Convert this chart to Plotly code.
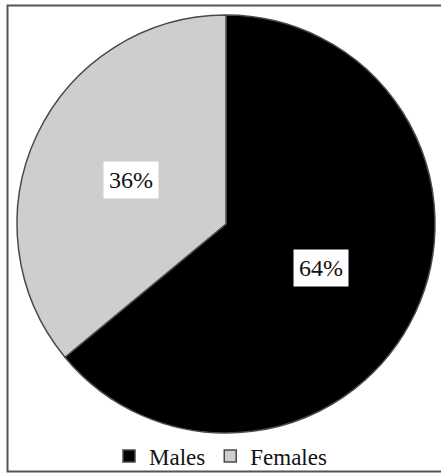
import math
import plotly.graph_objects as go

labels = ["Males", "Females"]
values = [64, 36]
colors = ["#000000", "#cecece"]

W, H = 441, 474
cx, cy, R = 226, 224, 209  # pie placement in pixels

SERIF = "Liberation Serif, Times New Roman, serif"

fig = go.Figure()
fig.add_trace(go.Pie(
    labels=labels, values=values, sort=False, direction="clockwise", rotation=0,
    marker=dict(colors=colors, line=dict(color="#4a4a4a", width=1.5)),
    textinfo="none", hoverinfo="label+percent",
    domain=dict(x=[(cx - R) / W, (cx + R) / W], y=[1 - (cy + R) / H, 1 - (cy - R) / H]),
))

# percentage labels in white boxes at half radius, mid-angle of each slice
total = sum(values)
cum = 0
annotations = []
for lab, v in zip(labels, values):
    mid = (cum + v / 2) / total * 2 * math.pi
    cum += v
    px = cx + 0.5 * R * math.sin(mid)
    py = cy - 0.5 * R * math.cos(mid)
    annotations.append(dict(
        x=px / W, y=1 - py / H, xref="paper", yref="paper",
        text=f"{round(v / total * 100)}%", showarrow=False,
        font=dict(family=SERIF, size=24, color="#111111"),
        bgcolor="white", borderpad=5, xanchor="center", yanchor="middle",
    ))

fig.update_layout(
    width=W, height=H,
    margin=dict(l=0, r=0, t=0, b=0, autoexpand=False),
    paper_bgcolor="white", plot_bgcolor="white",
    annotations=annotations,
    showlegend=True,
    legend=dict(orientation="h", x=0.5, xanchor="center", y=1 - 456 / H, yanchor="middle",
                font=dict(family=SERIF, size=23, color="#111111"),
                itemwidth=30, traceorder="normal", bgcolor="rgba(0,0,0,0)"),
    shapes=[dict(type="rect", xref="paper", yref="paper",
                 x0=7.5 / W, x1=1.05, y0=1 - 471.5 / H, y1=1 - 5.5 / H,
                 line=dict(color="#555555", width=2))],
)

fig.write_html("out.html")
